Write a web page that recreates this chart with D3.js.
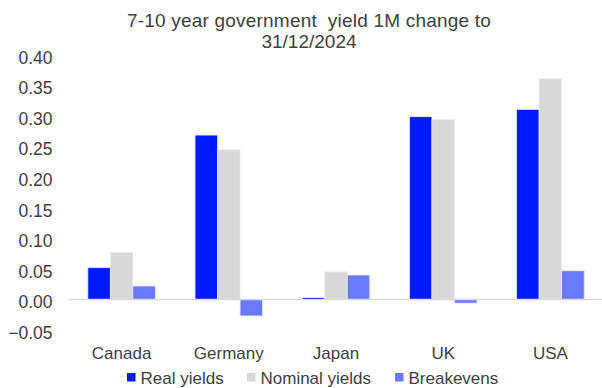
<!DOCTYPE html>
<html>
<head>
<meta charset="utf-8">
<script src="https://cdn.jsdelivr.net/npm/d3@7/dist/d3.min.js"></script>
<style>
  html, body { margin: 0; padding: 0; background: #fff; }
  svg { display: block; font-family: "Liberation Sans", Arial, sans-serif; }
</style>
</head>
<body>
<svg id="chart" width="602" height="388"></svg>
<script>
// 7-10 year government yield, 1M change (percentage points)
const countries = ["Canada", "Germany", "Japan", "UK", "USA"];
const seriesNames = ["Real yields", "Nominal yields", "Breakevens"];
const realYields = [0.052, 0.269, 0.003, 0.299, 0.311];
const nominalYields = [0.077, 0.245, 0.045, 0.294, 0.361];
const breakevens = [0.022, -0.027, 0.040, -0.006, 0.047];
const yTicks = [-0.05, 0.00, 0.05, 0.10, 0.15, 0.20, 0.25, 0.30, 0.35, 0.40];
const titleLines = ["7-10 year government  yield 1M change to", "31/12/2024"];

const colors = ["#0019ff", "#d9d9d9", "#6a7aff"];
const seriesValues = [realYields, nominalYields, breakevens];
const textColor = "#404040";
const font = "Liberation Sans, Arial, sans-serif";

const svg = d3.select("#chart");

const x = d3.scaleBand().domain(countries).range([68, 604]).paddingInner(0.37).paddingOuter(0.185);
const xs = d3.scaleBand().domain(seriesNames).range([0, x.bandwidth()]);
const y = d3.scaleLinear().domain([-0.05, 0.40]).range([330, 55]);

// Title
svg.append("g").selectAll("text").data(titleLines).join("text")
  .attr("x", 309).attr("y", (d, i) => 27.3 + i * 21)
  .attr("text-anchor", "middle")
  .attr("font-size", 19).attr("fill", textColor)
  .attr("letter-spacing", (d, i) => i === 0 ? 0.2 : 0)
  .attr("xml:space", "preserve")
  .style("white-space", "pre")
  .text(d => d);

// Y axis labels (no axis line)
const yAxis = d3.axisLeft(y).tickValues(yTicks).tickFormat(d3.format(".2f")).tickSize(0).tickPadding(0);
const yg = svg.append("g").attr("transform", "translate(52.5,0)").call(yAxis);
yg.select(".domain").remove();
yg.selectAll("text").attr("font-size", 17.5).attr("fill", textColor)
  .attr("font-family", font).attr("dy", "0.47em");

// Bars
const groups = svg.append("g").selectAll("g").data(countries).join("g")
  .attr("transform", d => `translate(${x(d)},0)`);
groups.selectAll("rect")
  .data((c, ci) => seriesNames.map((s, si) => ({ s, si, v: seriesValues[si][ci] })))
  .join("rect")
  .attr("x", d => xs(d.s))
  .attr("width", xs.bandwidth())
  .attr("y", d => y(Math.max(0, d.v)))
  .attr("height", d => Math.abs(y(d.v) - y(0)))
  .attr("fill", d => colors[d.si])
  .attr("stroke", "#e8e8ee").attr("stroke-width", 0.8);

// Zero line
svg.append("line")
  .attr("x1", 68).attr("x2", 602)
  .attr("y1", y(0)).attr("y2", y(0))
  .attr("stroke", "#d9d9d9").attr("stroke-width", 1.5);

// Category labels
const xAxis = d3.axisBottom(x).tickSize(0).tickPadding(0);
const xg = svg.append("g").attr("transform", "translate(0,359)").call(xAxis);
xg.select(".domain").remove();
xg.selectAll("text").attr("font-size", 17).attr("fill", textColor)
  .attr("font-family", font).attr("dy", 0);

// Legend
const legendX = [127, 247, 395];
const legend = svg.append("g").selectAll("g").data(seriesNames).join("g")
  .attr("transform", (d, i) => `translate(${legendX[i]},373)`);
legend.append("rect").attr("width", 8.5).attr("height", 8.5).attr("fill", (d, i) => colors[i]);
legend.append("text").attr("x", 13.5).attr("y", 11)
  .attr("font-size", 17).attr("fill", textColor).text(d => d);
</script>
</body>
</html>
